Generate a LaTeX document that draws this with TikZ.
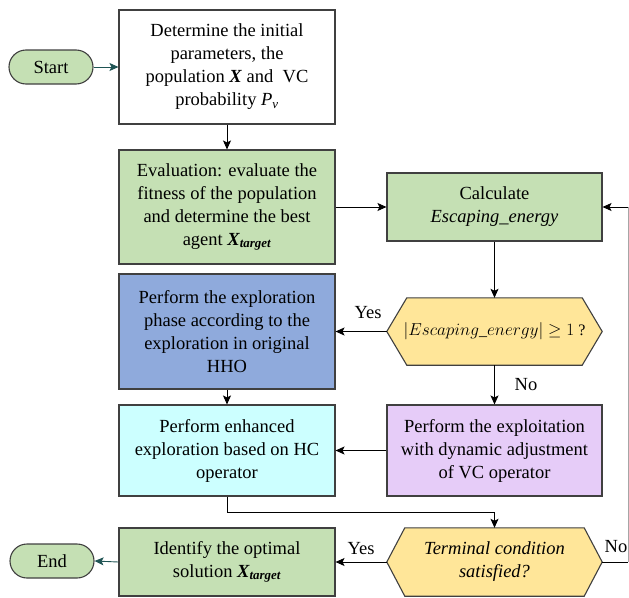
\documentclass[tikz,border=0pt]{standalone}
\usepackage{fontspec}
\setmainfont{Liberation Serif}
\usetikzlibrary{arrows.meta,backgrounds}
\definecolor{gfill}{HTML}{C5E0B4}
\definecolor{bfill}{HTML}{8FAADC}
\definecolor{cfill}{HTML}{CCFFFF}
\definecolor{pfill}{HTML}{E6CCF8}
\definecolor{yfill}{HTML}{FFE699}
\definecolor{bord}{HTML}{404040}
\definecolor{teal}{HTML}{1F5454}
\begin{document}
\begin{tikzpicture}[x=1pt,y=-1pt,
  txt/.style={font=\fontsize{18.5}{23}\selectfont, align=center, inner sep=0pt},
  boxL/.style={txt, draw=bord, line width=1.1pt, minimum width=216pt},
  boxR/.style={txt, draw=bord, line width=1.1pt, minimum width=215pt},
  hexnode/.style={txt, minimum width=215pt},
  hexline/.style={draw=bord, line width=1.1pt, fill=yfill},
  term/.style={txt, draw=bord, line width=1.1pt, fill=gfill, rounded corners=17pt, minimum width=84pt, minimum height=34pt},
  conn/.style={line width=0.9pt, -{Stealth[length=9pt,width=8pt,inset=2pt]}},
  tconn/.style={conn, draw=teal, -{Stealth[length=9pt,width=8pt,inset=2pt,fill=teal]}},
  lbl/.style={font=\fontsize{18.5}{22}\selectfont, inner sep=0pt}
]
\useasboundingbox (0,0) rectangle (629,597);

\node[term] (start) at (51,67) {Start};
\node[term] (end) at (52,561) {End};

\node[boxL, fill=white, minimum height=114pt] (init) at (227,67)
  {Determine the initial\\parameters, the\\population \textbf{\textit{X}} and\enspace VC\\probability \textit{P}\textsubscript{\textit{v}}};
\node[boxL, fill=gfill, minimum height=114pt] (eval) at (227,207)
  {Evaluation: evaluate the\\fitness of the population\\and determine the best\\agent \textbf{\textit{X\textsubscript{target}}}};
\node[boxL, fill=bfill, minimum height=115pt] (explore) at (227,331.5)
  {Perform the exploration\\phase according to the\\exploration in original\\HHO};
\node[boxL, fill=cfill, minimum height=91pt] (enh) at (227,450.5)
  {Perform enhanced\\exploration based on HC\\operator};
\node[boxL, fill=gfill, minimum height=68pt] (ident) at (227,562)
  {Identify the optimal\\solution \textbf{\textit{X\textsubscript{target}}}};

\node[boxR, fill=gfill, minimum height=68pt] (calc) at (494.5,207)
  {Calculate\\\textit{Escaping\_energy}};
\node[hexnode, minimum height=67pt, font=\fontsize{16}{22}\selectfont] (dec) at (494.5,331.5)
  {$|Escaping\_energy| \geq 1$ ?};
\node[boxR, fill=pfill, minimum height=91pt] (exploit) at (494.5,450.5)
  {Perform the exploitation\\with dynamic adjustment\\of VC operator};
\node[hexnode, minimum height=68pt] (termc) at (494.5,562)
  {\textit{Terminal condition}\\\textit{satisfied?}};

\begin{pgfonlayer}{background}
\draw[hexline] (dec.west) -- ([xshift=20pt]dec.north west) -- ([xshift=-20pt]dec.north east)
  -- (dec.east) -- ([xshift=-20pt]dec.south east) -- ([xshift=20pt]dec.south west) -- cycle;
\draw[hexline] (termc.west) -- ([xshift=18pt]termc.north west) -- ([xshift=-18pt]termc.north east)
  -- (termc.east) -- ([xshift=-18pt]termc.south east) -- ([xshift=18pt]termc.south west) -- cycle;
\end{pgfonlayer}

\coordinate (j1) at (227,512);
\coordinate (fb) at (628,400);

\draw[tconn] (start.east) -- (init.west);
\draw[conn] (init.south) -- (eval.north);
\draw[conn] (eval.east) -- (calc.west);
\draw[conn] (calc.south) -- (dec.north);
\draw[conn] (dec.west) -- (explore.east);
\draw[conn] (dec.south) -- (exploit.north);
\draw[conn] (exploit.west) -- (enh.east);
\draw[conn] (explore.south) -- (enh.north);
\draw[conn] (enh.south) -- (j1) -| (termc.north);
\draw[conn] (termc.west) -- (ident.east);
\draw[tconn] (ident.west) -- (end.east);
\draw[line width=0.9pt] (termc.east) -- (termc.east -| fb);
\draw[line width=0.9pt, draw=black!35] (termc.east -| fb) -- (calc.east -| fb);
\draw[conn] (calc.east -| fb) -- (calc.east);

\node[lbl] (yes1) at (368,313) {Yes};
\node[lbl] (no1) at (526,385) {No};
\node[lbl] (yes2) at (361,549) {Yes};
\node[lbl] (no2) at (616,547) {No};
\end{tikzpicture}
\end{document}
